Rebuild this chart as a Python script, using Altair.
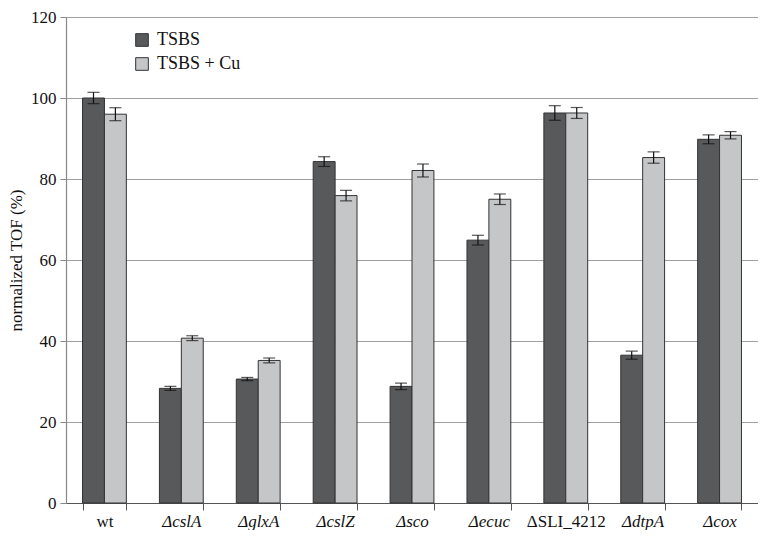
import altair as alt
import pandas as pd

categories = ["wt", "ΔcslA", "ΔglxA", "ΔcslZ", "Δsco", "Δecuc", "ΔSLI_4212", "ΔdtpA", "Δcox"]
series = ["TSBS", "TSBS + Cu"]
tsbs = [100.0, 28.3, 30.6, 84.3, 28.8, 64.9, 96.3, 36.5, 89.8]
tsbs_err = [1.4, 0.5, 0.4, 1.2, 0.8, 1.2, 1.8, 1.0, 1.1]
cu = [96.0, 40.7, 35.2, 75.9, 82.1, 75.0, 96.3, 85.3, 90.8]
cu_err = [1.6, 0.6, 0.6, 1.3, 1.6, 1.3, 1.35, 1.4, 0.9]
y_ticks = [0, 20, 40, 60, 80, 100, 120]

rows = []
for i, c in enumerate(categories):
    rows.append({"cat": c, "series": series[0], "value": tsbs[i], "err": tsbs_err[i]})
    rows.append({"cat": c, "series": series[1], "value": cu[i], "err": cu_err[i]})
df = pd.DataFrame(rows)
df["lo"] = df["value"] - df["err"]
df["hi"] = df["value"] + df["err"]

FONT = "Liberation Serif"

x = alt.X("cat:N", sort=categories, title=None,
          scale=alt.Scale(paddingInner=0.43, paddingOuter=0.215),
          axis=alt.Axis(tickBand="extent", labelAngle=0, tickSize=7, tickColor="#555",
                        domainColor="#555", labelPadding=3, labelFont=FONT, labelFontSize=17,
                        labelColor="#111",
                        labelFontStyle=alt.ExprRef("datum.value == 'wt' || datum.value == 'ΔSLI_4212' ? 'normal' : 'italic'")))
xo = alt.XOffset("series:N", sort=series, scale=alt.Scale(paddingInner=0, paddingOuter=0))

base = alt.Chart(df)

bars = base.mark_bar(stroke="#333333", strokeWidth=1).encode(
    x=x, xOffset=xo,
    y=alt.Y("value:Q", title="normalized TOF (%)",
            scale=alt.Scale(domain=[0, 120], nice=False),
            axis=alt.Axis(values=y_ticks, grid=True, gridColor="#a0a0a0", gridWidth=1.2,
                          domainColor="#888", tickColor="#888", tickSize=6,
                          labelFont=FONT, labelFontSize=17, labelColor="#111", labelPadding=4,
                          titleFont=FONT, titleFontSize=17, titleFontWeight="normal",
                          titleColor="#111", titlePadding=5)),
    color=alt.Color("series:N", sort=series,
                    scale=alt.Scale(domain=series, range=["#58595b", "#c5c6c8"]),
                    legend=alt.Legend(title=None, orient="none", legendX=67, legendY=14,
                                      symbolType="square", symbolSize=160,
                                      symbolStrokeColor="#333", symbolStrokeWidth=1,
                                      labelFont=FONT, labelFontSize=18, labelColor="#111",
                                      rowPadding=6, labelOffset=6)),
)

rule = base.mark_rule(color="#111", strokeWidth=1.2).encode(
    x=x, xOffset=xo, y="lo:Q", y2="hi:Q")
cap_hi = base.mark_tick(color="#111", thickness=1.2, size=12).encode(
    x=x, xOffset=xo, y="hi:Q")
cap_lo = base.mark_tick(color="#111", thickness=1.2, size=12).encode(
    x=x, xOffset=xo, y="lo:Q")

chart = alt.layer(bars, rule, cap_hi, cap_lo).properties(
    width=692, height=486,
    autosize=alt.AutoSizeParams(type="none"),
    padding={"left": 58, "top": 9, "right": 0, "bottom": 27},
).configure_view(stroke=None).configure_axis(domainWidth=1.2)

chart.save("out.html", embed_options={"renderer": "svg", "actions": False})
